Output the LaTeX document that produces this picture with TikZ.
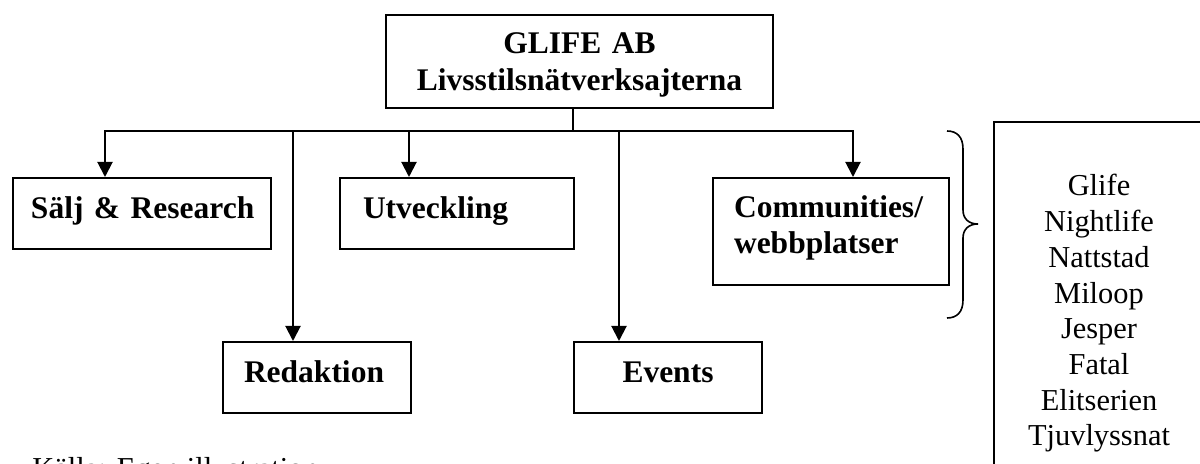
\documentclass[tikz,border=0pt]{standalone}
\usepackage{fontspec}
\setmainfont{Liberation Serif}
\usetikzlibrary{arrows.meta}

\begin{document}
\begin{tikzpicture}[x=0.5pt,y=-0.5pt,>={Triangle[length=7.5pt,width=7.5pt]},line join=miter,
    box/.style={draw,line width=1pt,anchor=north west,inner ysep=0pt,align=left,
      font=\fontsize{15.75pt}{18pt}\bfseries},
    wire/.style={line width=1pt},
    plain/.style={font=\fontsize{15.2pt}{17.85pt}\selectfont}]
  \useasboundingbox (0,0) rectangle (1200,464);
  \node[box,align=center,inner xsep=5pt,text width=183.5pt,text height=19.5pt,text depth=27pt,
    font=\fontsize{15.75pt}{18.5pt}\bfseries] (glife) at (385,14) {GLIFE AB\\Livsstilsnätverksajterna};
  \node[box,inner xsep=9pt,text width=111pt,text height=20.5pt,text depth=15pt] (salj) at (12,177) {\mbox{Sälj \& Research}};
  \node[box,inner xsep=11.5pt,text width=94pt,text height=20.5pt,text depth=15pt] (utv) at (339,177) {Utveckling};
  \node[box,inner xsep=10.5pt,text width=97pt,text height=20pt,text depth=33.5pt] (comm) at (712,177) {Communities/\\webbplatser};
  \node[box,inner xsep=10.5pt,text width=73pt,text height=20.5pt,text depth=15pt] (red) at (222,341) {Redaktion};
  \node[box,align=center,inner xsep=5pt,text width=84pt,text height=20.5pt,text depth=15pt] (ev) at (573,341) {Events};
  % lista med sajter, nedre kanten utanför bilden
  \node[plain,draw,line width=1pt,anchor=north west,inner xsep=5pt,inner ysep=0pt,align=center,
    text width=95pt,text height=37pt,text depth=150pt] (sites) at (993,121)
    {Glife\\Nightlife\\Nattstad\\Miloop\\Jesper\\Fatal\\Elitserien\\Tjuvlyssnat};
  \node[plain,anchor=north west,inner sep=0pt] (source) at (32,457) {Källa: Egen illustration};

  \coordinate (b0) at (573,131);
  \coordinate (b1) at (105,131);
  \coordinate (b2) at (293,131);
  \coordinate (b3) at (409,131);
  \coordinate (b4) at (619,131);
  \coordinate (b5) at (853,131);
  \draw[wire] (glife.south -| b0) -- (b0);
  \draw[wire,<->] (salj.north -| b1) -- (b1) -- (b5) -- (comm.north -| b5);
  \draw[wire,->] (b2) -- (red.north -| b2);
  \draw[wire,->] (b3) -- (utv.north -| b3);
  \draw[wire,->] (b4) -- (ev.north -| b4);
  % klammer
  \draw[line width=0.8pt] (947,131) .. controls (957,131) and (963,137) .. (963,149) -- (963,210)
    .. controls (963,219) and (969,224) .. (978,224) .. controls (969,224) and (963,229) .. (963,238)
    -- (963,300) .. controls (963,312) and (957,318) .. (947,318);
\end{tikzpicture}
\end{document}
